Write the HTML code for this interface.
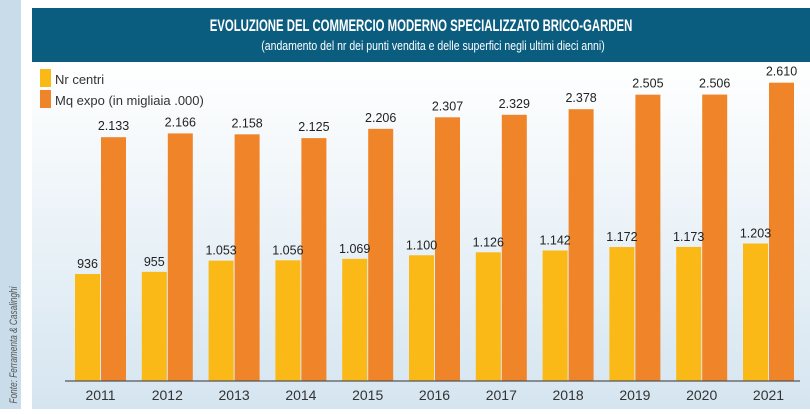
<!DOCTYPE html>
<html><head><meta charset="utf-8"><style>
body{margin:0;width:810px;height:409px;overflow:hidden;background:#fff}
</style></head><body>
<svg width="810" height="409" xmlns="http://www.w3.org/2000/svg" font-family="Liberation Sans, sans-serif">
<defs>
<linearGradient id="bg" x1="0" y1="0" x2="0" y2="1">
<stop offset="0" stop-color="#ffffff"/><stop offset="1" stop-color="#d5e5f0"/>
</linearGradient>
</defs>
<rect x="0" y="0" width="21" height="409" fill="#c9dcea"/>
<rect x="32" y="62" width="778" height="347" fill="url(#bg)"/>
<rect x="32" y="8" width="778" height="54" fill="#0b5d80"/>
<text x="421" y="31" fill="#fff" font-size="16.5" font-weight="bold" text-anchor="middle" transform="translate(421 0) scale(0.69 1) translate(-421 0)">EVOLUZIONE DEL COMMERCIO MODERNO SPECIALIZZATO BRICO-GARDEN</text>
<text x="433" y="50" fill="#fff" font-size="12.5" text-anchor="middle" transform="translate(433 0) scale(0.84 1) translate(-433 0)">(andamento del nr dei punti vendita e delle superfici negli ultimi dieci anni)</text>
<text x="17" y="345" fill="#555" font-size="11" font-style="italic" transform="rotate(-90 17 345) translate(17 0) scale(0.75 1) translate(-17 0)" text-anchor="middle">Fonte: Ferramenta &amp; Casalinghi</text>
<rect x="40" y="69" width="11" height="18" fill="#fbb917"/>
<rect x="40" y="90" width="11" height="18" fill="#f08428"/>
<text x="55" y="84" font-size="13" fill="#333">Nr centri</text>
<text x="55" y="105" font-size="13" fill="#333">Mq expo (in migliaia .000)</text>
<g id="bars" font-size="12.5" fill="#222" text-anchor="middle"></g>
<line x1="65" y1="381" x2="800" y2="381" stroke="#555" stroke-width="1.2"/>
</svg>
<script>
var y=[2011,2012,2013,2014,2015,2016,2017,2018,2019,2020,2021];
var a=[936,955,1053,1056,1069,1100,1126,1142,1172,1173,1203];
var b=[2133,2166,2158,2125,2206,2307,2329,2378,2505,2506,2610];
var g=document.getElementById('bars'),h='';
function f(v){return v>=1000?Math.floor(v/1000)+'.'+String(v%1000).padStart(3,'0'):String(v);}
for(var i=0;i<11;i++){var x=75+i*66.8,s=0.1143;
var ta=381-a[i]*s,tb=381-b[i]*s;
h+='<rect x="'+x+'" y="'+ta+'" width="25" height="'+(381-ta)+'" fill="#fbb917"/>';
h+='<rect x="'+(x+26)+'" y="'+tb+'" width="25" height="'+(381-tb)+'" fill="#f08428"/>';
h+='<text x="'+(x+12.5)+'" y="'+(ta-6)+'">'+f(a[i])+'</text>';
h+='<text x="'+(x+38.5)+'" y="'+(tb-7)+'">'+f(b[i])+'</text>';
h+='<text x="'+(x+25.5)+'" y="400" font-size="14" fill="#333">'+y[i]+'</text>';}
g.innerHTML=h;
</script>
</body></html>
